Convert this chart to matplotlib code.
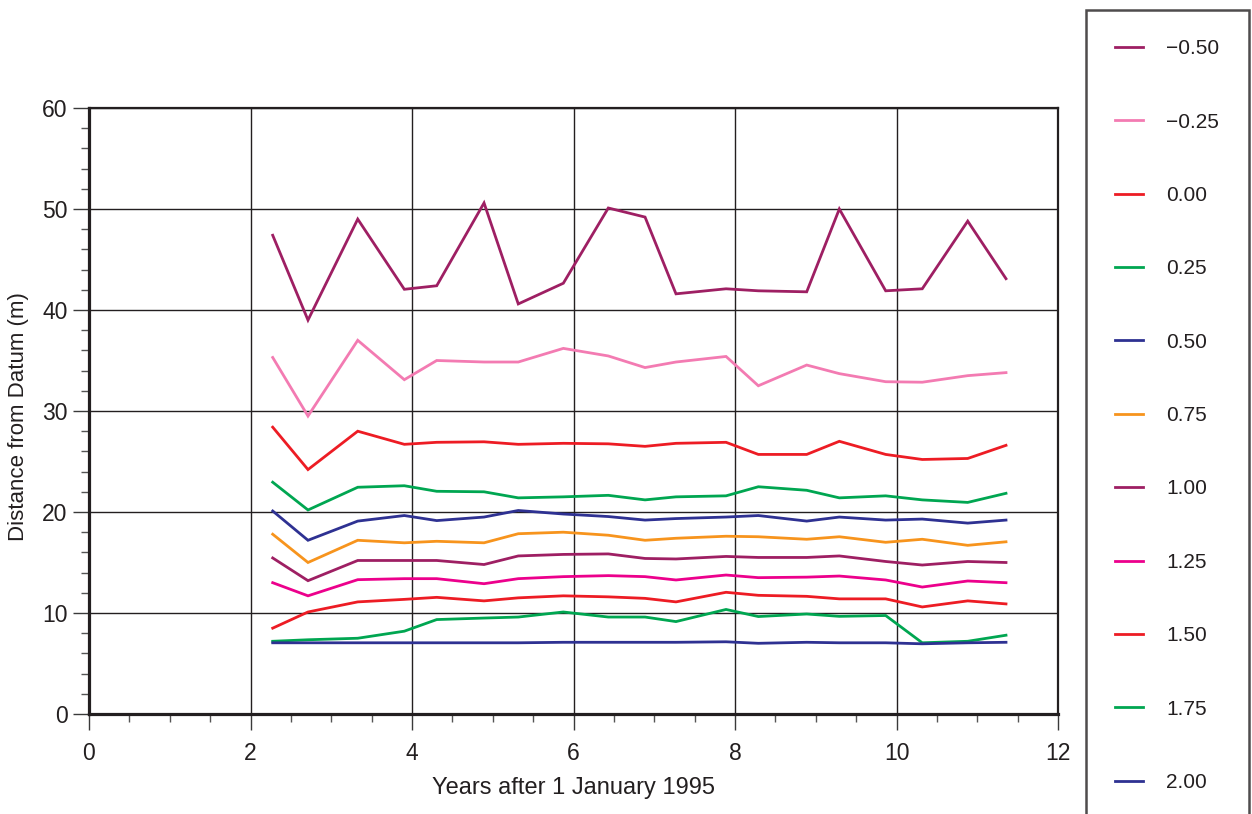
import numpy as np
import matplotlib.pyplot as plt
from matplotlib.ticker import MultipleLocator

plt.rcParams['font.family'] = ['Liberation Sans', 'DejaVu Sans']

# survey times (years after 1 Jan 1995)
years = [2.275, 2.712, 3.328, 3.905, 4.306, 4.892, 5.316, 5.874, 6.431, 6.886,
         7.269, 7.889, 8.289, 8.888, 9.292, 9.866, 10.319, 10.882, 11.356]

levels = ['\u22120.50', '\u22120.25', '0.00', '0.25', '0.50', '0.75',
          '1.00', '1.25', '1.50', '1.75', '2.00']

dist_m050 = [47.4, 39.0, 49.0, 42.05, 42.4, 50.6, 40.6, 42.65, 50.1, 49.2,
             41.6, 42.1, 41.9, 41.8, 50.0, 41.9, 42.1, 48.8, 43.1]
dist_m025 = [35.3, 29.5, 37.0, 33.1, 35.0, 34.85, 34.85, 36.2, 35.45, 34.3,
             34.85, 35.4, 32.5, 34.55, 33.7, 32.9, 32.85, 33.5, 33.8]
dist_000 = [28.4, 24.2, 28.0, 26.7, 26.9, 26.95, 26.7, 26.8, 26.75, 26.5,
            26.8, 26.9, 25.7, 25.7, 27.0, 25.7, 25.2, 25.3, 26.6]
dist_025 = [22.95, 20.2, 22.45, 22.6, 22.05, 22.0, 21.4, 21.5, 21.65, 21.2,
            21.5, 21.6, 22.5, 22.15, 21.4, 21.6, 21.2, 20.95, 21.85]
dist_050 = [20.1, 17.2, 19.1, 19.65, 19.15, 19.5, 20.15, 19.8, 19.55, 19.2,
            19.35, 19.5, 19.65, 19.1, 19.5, 19.2, 19.3, 18.9, 19.2]
dist_075 = [17.8, 15.0, 17.2, 16.95, 17.1, 16.95, 17.85, 18.0, 17.7, 17.2,
            17.4, 17.6, 17.55, 17.3, 17.55, 17.0, 17.3, 16.7, 17.05]
dist_100 = [15.45, 13.2, 15.2, 15.2, 15.2, 14.8, 15.65, 15.8, 15.85, 15.4,
            15.35, 15.6, 15.5, 15.5, 15.65, 15.1, 14.75, 15.1, 15.0]
dist_125 = [13.0, 11.7, 13.3, 13.4, 13.4, 12.9, 13.4, 13.6, 13.7, 13.6,
            13.27, 13.76, 13.5, 13.55, 13.66, 13.27, 12.57, 13.17, 13.0]
dist_150 = [8.5, 10.1, 11.1, 11.35, 11.55, 11.2, 11.5, 11.7, 11.6, 11.45,
            11.1, 12.05, 11.75, 11.65, 11.4, 11.4, 10.6, 11.2, 10.9]
dist_175 = [7.2, 7.35, 7.5, 8.2, 9.35, 9.5, 9.6, 10.1, 9.6, 9.6,
            9.15, 10.35, 9.65, 9.9, 9.67, 9.75, 7.05, 7.2, 7.8]
dist_200 = [7.05, 7.05, 7.05, 7.05, 7.05, 7.05, 7.05, 7.1, 7.1, 7.1,
            7.1, 7.15, 7.0, 7.1, 7.05, 7.05, 6.95, 7.05, 7.1]

series = [dist_m050, dist_m025, dist_000, dist_025, dist_050, dist_075,
          dist_100, dist_125, dist_150, dist_175, dist_200]
colors = ['#9e1f63', '#f37bb2', '#ed1c24', '#00a651', '#2e3192', '#f7941d',
          '#9e1f63', '#ec008c', '#ed1c24', '#00a651', '#2e3192']

ink = '#231f20'

fig = plt.figure(figsize=(12.52, 8.14), dpi=100)
ax = fig.add_axes([89 / 1252, 100 / 814, (1058 - 89) / 1252, (714 - 108) / 814])

for vals, c, lab in zip(series, colors, levels):
    ax.plot(years, vals, color=c, lw=2.0, label=lab, solid_joinstyle='miter')

ax.set_xlim(0, 12)
ax.set_ylim(0, 60)
ax.xaxis.set_major_locator(MultipleLocator(2))
ax.xaxis.set_minor_locator(MultipleLocator(0.5))
ax.yaxis.set_major_locator(MultipleLocator(10))
ax.yaxis.set_minor_locator(MultipleLocator(2))
ax.grid(True, which='major', color=ink, lw=1.0)
ax.set_axisbelow(True)

ax.tick_params(which='major', direction='out', length=11.5, width=1.0,
               color='#3a3a3a', labelsize=16.5, labelcolor=ink)
ax.tick_params(which='minor', direction='out', length=6, width=1.0, color='#555555')
ax.tick_params(axis='x', which='major', pad=9)
ax.tick_params(axis='y', which='major', pad=4)

for side in ['left', 'bottom']:
    ax.spines[side].set_linewidth(2.3)
    ax.spines[side].set_color(ink)
for side in ['top', 'right']:
    ax.spines[side].set_linewidth(1.6)
    ax.spines[side].set_color(ink)

ax.set_xlabel('Years after 1 January 1995', fontsize=17, color=ink, labelpad=8)
ax.set_ylabel('Distance from Datum (m)', fontsize=16, color=ink)
ax.yaxis.set_label_coords(-0.062, 0.49)

leg = fig.legend(loc='upper left', bbox_to_anchor=(1086 / 1252, 1 - 10 / 814),
                 frameon=True, fancybox=False, fontsize=15, handlelength=1.35,
                 handletextpad=1.1, borderpad=1.4, labelspacing=2.61,
                 borderaxespad=0)
leg.get_frame().set_edgecolor(ink)
leg.get_frame().set_linewidth(1.8)
for t in leg.get_texts():
    t.set_color(ink)

fig.savefig('out.png', dpi=100)
